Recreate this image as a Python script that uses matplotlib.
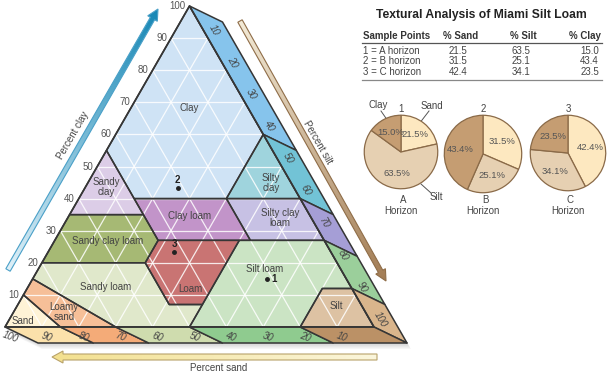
import numpy as np
import matplotlib
matplotlib.use('Agg')
import matplotlib.pyplot as plt
from matplotlib.patches import Polygon, FancyArrow
from matplotlib.colors import LinearSegmentedColormap

plt.rcParams['font.family'] = ['Liberation Sans', 'DejaVu Sans']

# Soil texture classes, vertices as (sand, silt, clay) percent
class_names = ['Clay', 'Sandy\nclay', 'Silty\nclay', 'Clay loam', 'Silty clay\nloam',
               'Sandy clay loam', 'Loam', 'Silt loam', 'Sandy loam', 'Loamy\nsand',
               'Sand', 'Silt']
clay_poly = [(0, 0, 100), (45, 0, 55), (45, 15, 40), (20, 40, 40), (0, 40, 60)]
sandy_clay_poly = [(45, 0, 55), (65, 0, 35), (45, 20, 35)]
silty_clay_poly = [(0, 40, 60), (20, 40, 40), (0, 60, 40)]
clay_loam_poly = [(20, 40, 40), (45, 15, 40), (45, 28, 27), (20, 53, 27)]
silty_clay_loam_poly = [(0, 60, 40), (20, 40, 40), (20, 53, 27), (0, 73, 27)]
sandy_clay_loam_poly = [(65, 0, 35), (45, 20, 35), (45, 28, 27), (52, 28, 20), (80, 0, 20)]
loam_poly = [(45, 28, 27), (23, 50, 27), (43, 50, 7), (52, 41, 7), (52, 28, 20)]
silt_loam_poly = [(23, 50, 27), (0, 73, 27), (0, 88, 12), (8, 80, 12), (20, 80, 0),
                  (50, 50, 0), (43, 50, 7)]
sandy_loam_poly = [(80, 0, 20), (52, 28, 20), (52, 41, 7), (43, 50, 7), (50, 50, 0),
                   (70, 30, 0), (85, 0, 15)]
loamy_sand_poly = [(85, 0, 15), (70, 30, 0), (85, 15, 0), (90, 0, 10)]
sand_poly = [(90, 0, 10), (85, 15, 0), (100, 0, 0)]
silt_poly = [(0, 88, 12), (0, 100, 0), (20, 80, 0), (8, 80, 12)]

# class boundaries along the outer edges
silt_edge_breaks = [0, 40, 60, 73, 88, 100]      # right edge (no sand)
sand_edge_breaks = [100, 85, 70, 50, 20, 0]      # base (no clay)

# sample points
sample_ids = ['1', '2', '3']
horizons = ['A', 'B', 'C']
sand_pct = [21.5, 31.5, 42.4]
silt_pct = [63.5, 25.1, 34.1]
clay_pct = [15.0, 43.4, 23.5]

ticks = [10, 20, 30, 40, 50, 60, 70, 80, 90, 100]

# ---- geometry (pixel space) ----
XL, XR, YB, YT = 5, 374, 327, 6
OFF = np.array([33, 16])


def tern(sand, silt, clay):
    x = XL + (silt + clay / 2) / 100 * (XR - XL)
    y = YB - clay / 100 * (YB - YT)
    return np.array([x, y])


fig = plt.figure(figsize=(6.14, 3.86), dpi=100)
ax = fig.add_axes([0, 0, 1, 1])
ax.set_xlim(0, 614)
ax.set_ylim(386, 0)
ax.axis('off')

# soft shadow under the prism
outline = np.array([tern(0, 0, 100), tern(0, 0, 100) + OFF, tern(0, 100, 0) + OFF,
                    tern(100, 0, 0) + OFF, tern(100, 0, 0)])
for k in range(1, 6):
    ax.add_patch(Polygon(outline + np.array([k * 0.8, k * 1.2]), closed=True,
                         facecolor='#000000', alpha=0.035, edgecolor='none', zorder=0.5))

polys = [clay_poly, sandy_clay_poly, silty_clay_poly, clay_loam_poly, silty_clay_loam_poly,
         sandy_clay_loam_poly, loam_poly, silt_loam_poly, sandy_loam_poly, loamy_sand_poly,
         sand_poly, silt_poly]
fills = ['#cfe3f5', '#dccde7', '#9fd4dd', '#c294c9', '#c7c1e4', '#a6b974', '#c97473',
         '#cbe4c4', '#e0e8cb', '#f6bf98', '#fef3d6', '#ddc2a3']
label_pos = [(189, 108), (106, 187), (271, 183), (190, 216), (280, 218), (108, 241),
             (190, 289), (265, 269), (106, 287), (64, 312), (23, 321), (336, 306)]
edge_c = '#363636'

for pts, fc in zip(polys, fills):
    xy = np.array([tern(*p) for p in pts])
    ax.add_patch(Polygon(xy, closed=True, facecolor=fc, edgecolor='none', zorder=1))

# white grid
for k in range(10, 100, 10):
    for a, b in [((100 - k, 0, k), (0, 100 - k, k)),
                 ((100 - k, k, 0), (0, k, 100 - k)),
                 ((k, 100 - k, 0), (k, 0, 100 - k))]:
        p, q = tern(*a), tern(*b)
        ax.plot([p[0], q[0]], [p[1], q[1]], color='white', lw=0.9, alpha=0.85, zorder=2)

for pts in polys:
    xy = np.array([tern(*p) for p in pts])
    ax.add_patch(Polygon(xy, closed=True, facecolor='none', edgecolor=edge_c, lw=1.1,
                         joinstyle='round', zorder=3))

# right band (silt)
right_cols = ['#86c4ec', '#72c3d6', '#a59ed6', '#9bcf9b', '#d9b58c']
for i, c in enumerate(right_cols):
    s0, s1 = silt_edge_breaks[i], silt_edge_breaks[i + 1]
    p, q = tern(0, s0, 100 - s0), tern(0, s1, 100 - s1)
    ax.add_patch(Polygon([p, q, q + OFF, p + OFF], closed=True, facecolor=c,
                         edgecolor=edge_c, lw=1.1, joinstyle='round', zorder=3))

# bottom band (sand)
bottom_cols = ['#fbe1ab', '#f4ab78', '#cfdcae', '#8fcb8f', '#bb9166']
for i, c in enumerate(bottom_cols):
    s0, s1 = sand_edge_breaks[i], sand_edge_breaks[i + 1]
    p, q = tern(s0, 100 - s0, 0), tern(s1, 100 - s1, 0)
    ax.add_patch(Polygon([p, q, q + OFF, p + OFF], closed=True, facecolor=c,
                         edgecolor=edge_c, lw=1.1, joinstyle='round', zorder=3))

tri = np.array([tern(0, 0, 100), tern(100, 0, 0), tern(0, 100, 0)])
ax.add_patch(Polygon(tri, closed=True, facecolor='none', edgecolor=edge_c, lw=1.2, zorder=4))

for name, (x, y) in zip(class_names, label_pos):
    ax.text(x, y, name, fontsize=7, color='#444444', ha='center', va='center',
            linespacing=1.0, zorder=6)

# tick labels
for t in ticks:
    p = tern(100 - t, 0, t)
    ax.text(p[0] - 4, p[1], str(t), fontsize=7, color='#555555', ha='right', va='center')
    p = tern(0, t, 100 - t)
    ax.text(p[0] + 6, p[1] - 8, str(t), fontsize=7, color='#444444', ha='center',
            va='center', rotation=-60, style='italic', zorder=6)
for t in ticks:
    p = tern(t, 100 - t, 0)
    ax.text(p[0] + 5, p[1] + 10, str(t), fontsize=7, color='#444444', ha='center',
            va='center', rotation=-20, style='italic', zorder=6)

# sample points
for i, sid in enumerate(sample_ids):
    p = tern(sand_pct[i], silt_pct[i], clay_pct[i])
    ax.plot(p[0], p[1], 'o', ms=2.5, color='#222222', zorder=7)
    if sid == '1':
        ax.text(p[0] + 4, p[1] + 0.5, sid, fontsize=7, fontweight='bold', color='#222222',
                ha='left', va='center', zorder=7)
    else:
        ax.text(p[0], p[1] - 8, sid, fontsize=7, fontweight='bold', color='#222222',
                ha='center', va='center', zorder=7)


# gradient arrows
def grad_arrow(p0, p1, width, head_w, head_l, c0, c1, ec):
    p0, p1 = np.array(p0, float), np.array(p1, float)
    d = p1 - p0
    arr = FancyArrow(p0[0], p0[1], d[0], d[1], width=width, head_width=head_w,
                     head_length=head_l, length_includes_head=True,
                     facecolor='none', edgecolor=ec, lw=0.8, zorder=5)
    ax.add_patch(arr)
    xmin, xmax = min(p0[0], p1[0]) - 10, max(p0[0], p1[0]) + 10
    ymin, ymax = min(p0[1], p1[1]) - 10, max(p0[1], p1[1]) + 10
    xs = np.linspace(xmin, xmax, 200)
    ys = np.linspace(ymin, ymax, 200)
    X, Y = np.meshgrid(xs, ys)
    tt = ((X - p0[0]) * d[0] + (Y - p0[1]) * d[1]) / (d @ d)
    cmap = LinearSegmentedColormap.from_list('g', [c0, c1])
    im = ax.imshow(np.clip(tt, 0, 1), extent=(xmin, xmax, ymin, ymax), origin='lower',
                   cmap=cmap, vmin=0, vmax=1, aspect='auto', zorder=4.9,
                   interpolation='bilinear')
    im.set_clip_path(arr)


grad_arrow((8, 270), (158, 9), 5, 11, 11, '#dff0f8', '#1687b5', '#4aa0c8')
grad_arrow((240, 21), (386, 281), 5, 11, 11, '#f3ead6', '#a37d55', '#8f6d48')
grad_arrow((377, 357), (52, 357), 6, 12, 11, '#fbf6dc', '#f3e08f', '#b8a26a')

ax.text(73, 135, 'Percent clay', fontsize=7, color='#444444', rotation=60,
        ha='center', va='center')
ax.text(318, 142, 'Percent silt', fontsize=7, color='#444444', rotation=-60,
        ha='center', va='center')
ax.text(219, 368, 'Percent sand', fontsize=7, color='#444444', ha='center', va='center')

ax.set_xlim(0, 614)
ax.set_ylim(386, 0)

# ---- table ----
ax.text(481, 15, 'Textural Analysis of Miami Silt Loam', fontsize=8.7, fontweight='bold',
        color='#222222', ha='center', va='center')
hy = 36
ax.text(363, hy, 'Sample Points', fontsize=7, fontweight='bold', color='#333333',
        ha='left', va='center')
ax.text(461, hy, '% Sand', fontsize=7, fontweight='bold', color='#333333', ha='center', va='center')
ax.text(523, hy, '% Silt', fontsize=7, fontweight='bold', color='#333333', ha='center', va='center')
ax.text(601, hy, '% Clay', fontsize=7, fontweight='bold', color='#333333', ha='right', va='center')
ax.plot([362, 602], [43, 43], color='#555555', lw=0.9)
ax.plot([362, 602], [80, 80], color='#888888', lw=0.9)
for i in range(3):
    y = 51 + i * 10.5
    ax.text(363, y, f'{sample_ids[i]} = {horizons[i]} horizon', fontsize=7,
            color='#444444', ha='left', va='center')
    ax.text(458, y, f'{sand_pct[i]:.1f}', fontsize=7, color='#444444', ha='center', va='center')
    ax.text(521, y, f'{silt_pct[i]:.1f}', fontsize=7, color='#444444', ha='center', va='center')
    ax.text(599, y, f'{clay_pct[i]:.1f}', fontsize=7, color='#444444', ha='right', va='center')

# ---- pies ----
pie_centers = [(401, 152), (483, 154), (568, 153)]
pie_r = [37.5, 39.5, 38.5]
pie_cols = ['#fde8c0', '#e6d0b2', '#c59d72']
for i, (cx, cy) in enumerate(pie_centers):
    w = pie_r[i] * 2 / 614
    h = pie_r[i] * 2 / 386
    pax = fig.add_axes([cx / 614 - w / 2, 1 - cy / 386 - h / 2, w, h])
    pax.pie([sand_pct[i], silt_pct[i], clay_pct[i]], colors=pie_cols, startangle=90,
            counterclock=False, radius=1,
            autopct=lambda v: f'{v:.1f}%', pctdistance=0.6,
            wedgeprops=dict(edgecolor='#8a6a48', linewidth=0.9),
            textprops=dict(fontsize=6.8, color='#555555'))
    pax.set_xlim(-1.02, 1.02)
    pax.set_ylim(-1.02, 1.02)
    ax.text(cx, 109, sample_ids[i], fontsize=7, color='#444444', ha='center', va='center')
    ax.text(cx + 2, 200, horizons[i], fontsize=7, color='#444444', ha='center', va='center')
    ax.text(cx, 211, 'Horizon', fontsize=7, color='#444444', ha='center', va='center')

ax.text(378, 105, 'Clay', fontsize=7, color='#444444', ha='center', va='center')
ax.text(432, 106, 'Sand', fontsize=7, color='#444444', ha='center', va='center')
ax.text(436, 197, 'Silt', fontsize=7, color='#444444', ha='center', va='center')
ax.plot([381, 390], [111, 124], color='#555555', lw=0.7)
ax.plot([429, 419], [111, 124], color='#555555', lw=0.7)
ax.plot([431, 421], [193, 184], color='#555555', lw=0.7)

fig.savefig('out.png', dpi=100)
